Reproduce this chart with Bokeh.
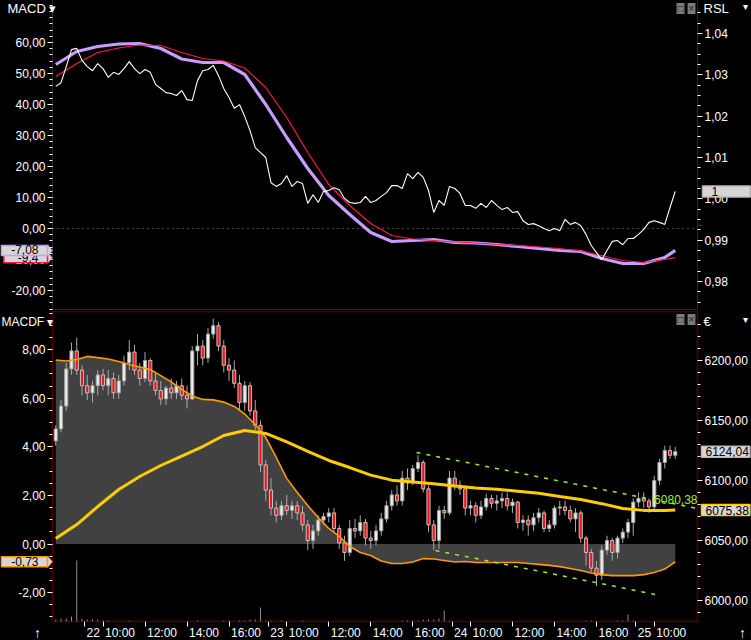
from bokeh.plotting import figure
from bokeh.layouts import column
from bokeh.models import (Range1d, LinearAxis, FixedTicker, CustomJSTickFormatter, Label, BoxAnnotation,
                          PolyAnnotation)
from bokeh.embed import file_html
from bokeh.resources import INLINE
from jinja2 import Template

# ---------------- sessions: 15-minute bars, trading hours 9:00-17:45 ----------------
session_days = ["21", "22", "23", "24", "25"]
first_bar_hour = [16.5, 9.0, 9.0, 9.0, 9.0]
last_bar_hour = [17.5, 17.5, 17.5, 17.5, 11.0]
SESSION_OPEN = 9.0
SESSION_HOURS = 8.75
BAR_HOURS = 0.25

tick_days = ["22", "23", "24", "25"]
tick_hours = [[10, 12, 14, 16], [10, 12, 14, 16], [10, 12, 14, 16], [10]]
DAY_MARK = 0.12

# ---------------- price candles (EUR) ----------------
opens = [6133, 6143, 6162, 6193, 6208,
         6192, 6179, 6173, 6179, 6188, 6179, 6185, 6173, 6183, 6198, 6207, 6192, 6185, 6200, 6183, 6175, 6168, 6177,
         6173, 6179, 6171, 6168, 6208, 6212, 6202, 6222, 6229, 6212, 6196, 6192, 6181, 6165, 6179, 6158, 6146,
         6113, 6092, 6077, 6071, 6079, 6075, 6079, 6073, 6063, 6050, 6058, 6067, 6070, 6073, 6060, 6048, 6040, 6060,
         6058, 6065, 6052, 6050, 6058, 6068, 6079, 6088, 6083, 6102, 6098, 6110, 6115, 6093, 6063, 6050, 6075,
         6073, 6102, 6096, 6093, 6077, 6079, 6071, 6078, 6085, 6081, 6083, 6085, 6079, 6082, 6065, 6067, 6063, 6069,
         6073, 6060, 6063, 6077, 6078, 6075, 6068, 6073, 6052, 6040, 6027, 6021, 6042, 6050, 6040, 6052, 6057,
         6065, 6082, 6085, 6083, 6078, 6100, 6115, 6125, 6121]
highs = [6146, 6167, 6198, 6215, 6219,
         6196, 6188, 6183, 6192, 6193, 6192, 6190, 6188, 6204, 6217, 6213, 6198, 6207, 6202, 6190, 6183, 6179, 6185,
         6183, 6185, 6179, 6212, 6222, 6217, 6227, 6235, 6232, 6217, 6202, 6200, 6188, 6183, 6182, 6167, 6150,
         6117, 6102, 6083, 6083, 6088, 6083, 6083, 6079, 6067, 6063, 6071, 6073, 6077, 6077, 6063, 6054, 6067, 6068,
         6071, 6068, 6058, 6063, 6073, 6083, 6092, 6096, 6108, 6110, 6113, 6121, 6117, 6096, 6067, 6079, 6079,
         6108, 6108, 6100, 6096, 6083, 6082, 6083, 6089, 6088, 6088, 6090, 6090, 6085, 6083, 6071, 6071, 6073, 6077,
         6075, 6067, 6079, 6083, 6083, 6079, 6077, 6075, 6054, 6043, 6033, 6046, 6054, 6052, 6054, 6060, 6068,
         6085, 6090, 6090, 6085, 6104, 6118, 6129, 6129, 6128]
lows = [6129, 6140, 6158, 6188, 6188,
        6171, 6167, 6165, 6171, 6175, 6171, 6168, 6168, 6179, 6192, 6188, 6179, 6182, 6179, 6171, 6163, 6163, 6168,
        6168, 6167, 6160, 6167, 6196, 6196, 6198, 6218, 6208, 6190, 6183, 6177, 6158, 6158, 6154, 6142, 6107,
        6083, 6071, 6065, 6067, 6071, 6068, 6067, 6058, 6042, 6043, 6054, 6063, 6065, 6057, 6043, 6033, 6037, 6052,
        6054, 6046, 6043, 6046, 6054, 6065, 6075, 6079, 6079, 6092, 6096, 6107, 6090, 6057, 6042, 6043, 6068,
        6071, 6092, 6088, 6071, 6071, 6065, 6068, 6075, 6077, 6075, 6077, 6075, 6073, 6060, 6058, 6054, 6058, 6065,
        6057, 6057, 6060, 6071, 6071, 6065, 6057, 6048, 6029, 6023, 6012, 6017, 6038, 6033, 6035, 6048, 6052,
        6054, 6078, 6077, 6073, 6075, 6096, 6110, 6118, 6118]
closes = [6143, 6162, 6193, 6208, 6192,
          6179, 6173, 6179, 6188, 6179, 6185, 6173, 6183, 6198, 6207, 6192, 6185, 6200, 6183, 6175, 6168, 6177, 6173,
          6179, 6171, 6168, 6208, 6212, 6202, 6222, 6229, 6212, 6196, 6192, 6181, 6165, 6179, 6158, 6146, 6113,
          6092, 6077, 6071, 6079, 6075, 6079, 6073, 6063, 6050, 6058, 6067, 6070, 6073, 6060, 6048, 6040, 6060, 6058,
          6065, 6052, 6050, 6058, 6068, 6079, 6088, 6083, 6102, 6098, 6110, 6115, 6093, 6063, 6050, 6075, 6073,
          6102, 6096, 6093, 6077, 6079, 6071, 6078, 6085, 6081, 6083, 6085, 6079, 6082, 6065, 6067, 6063, 6069, 6073,
          6060, 6063, 6077, 6078, 6075, 6068, 6073, 6052, 6040, 6027, 6021, 6042, 6050, 6040, 6052, 6057, 6065,
          6082, 6085, 6083, 6078, 6100, 6115, 6125, 6121, 6124.04]
volume = [200, 300, 300, 500, 6100,
          300, 200, 200, 200, 100, 100, 0, 0, 0, 100, 0, 0, 0, 0, 0, 0, 0, 0, 0, 0, 0, 0, 100, 0, 0, 0, 0, 100, 100, 0,
          100, 100, 200, 200, 1400,
          100, 100, 0, 100, 0, 0, 0, 100, 0, 0, 0, 0, 0, 0, 0, 0, 0, 0, 0, 0, 0, 0, 0, 0, 0, 0, 100, 100, 100, 100,
          200, 200, 200, 300, 1100,
          100, 0, 0, 0, 0, 0, 0, 0, 0, 0, 0, 0, 0, 0, 0, 0, 0, 0, 0, 0, 0, 0, 0, 0, 0, 0, 100, 100, 0, 0,
          0, 0, 100, 100, 700,
          100, 0, 0, 0, 0, 0, 0, 0, 0]

# ---------------- indicators ----------------
rsl = [1.0272, 1.0281, 1.0320, 1.0361, 1.0364,
       1.0335, 1.0320, 1.0310, 1.0327, 1.0315, 1.0294, 1.0306, 1.0301, 1.0315, 1.0332, 1.0315, 1.0303, 1.0313,
       1.0306, 1.0277, 1.0267, 1.0257, 1.0255, 1.0250, 1.0262, 1.0240, 1.0238, 1.0286, 1.0310, 1.0313, 1.0323,
       1.0298, 1.0267, 1.0245, 1.0219, 1.0228, 1.0199, 1.0165, 1.0124, 1.0112,
       1.0100, 1.0039, 1.0030, 1.0037, 1.0056, 1.0030, 1.0042, 1.0037, 0.9989, 1.0010, 0.9991, 1.0018, 1.0020,
       1.0027, 1.0022, 1.0001, 0.9991, 0.9989, 0.9991, 1.0006, 0.9991, 0.9996, 1.0006, 1.0015, 1.0032, 1.0032,
       1.0025, 1.0061, 1.0049, 1.0064, 1.0052, 1.0020, 0.9967, 0.9996, 0.9984,
       1.0030, 1.0025, 1.0013, 0.9984, 0.9984, 0.9977, 0.9989, 0.9979, 0.9996, 0.9984, 0.9974, 0.9979, 0.9967,
       0.9969, 0.9947, 0.9938, 0.9940, 0.9935, 0.9928, 0.9923, 0.9928, 0.9923, 0.9950, 0.9938, 0.9943, 0.9935,
       0.9914, 0.9887, 0.9870, 0.9853, 0.9875, 0.9897, 0.9899, 0.9889, 0.9904,
       0.9904, 0.9914, 0.9926, 0.9943, 0.9947, 0.9943, 0.9938, 0.9979, 1.0018]
macd_line = [52.90, 57.10, 58.71, 59.52, 59.68, 58.06, 54.68, 53.55, 53.55, 49.68, 40.00, 29.35, 19.35, 10.65,
             4.52, -1.29, -4.19, -3.87, -3.55, -4.52, -4.68, -5.16, -5.81, -6.45, -7.10, -7.42, -9.68, -11.29,
             -11.29, -9.35, -7.08]
macd_signal = [49.03, 53.23, 56.77, 58.23, 59.19, 59.03, 56.77, 54.84, 54.03, 51.77, 45.48, 35.81, 24.52, 14.19,
               7.42, 1.61, -2.26, -3.39, -3.87, -4.35, -4.68, -5.16, -5.48, -5.97, -6.45, -7.26, -8.71, -10.32,
               -10.97, -10.00, -9.40]
ma_line = [6051.7, 6063.3, 6078.3, 6092.5, 6103.3, 6112.5, 6120.4, 6128.3, 6137.5, 6141.7, 6139.2, 6132.1,
           6124.2, 6116.7, 6110.8, 6104.5, 6100.3, 6098.7, 6097.3, 6095.5, 6093.8, 6092.7, 6091.1, 6089.3, 6086.7,
           6084.2, 6080.7, 6076.7, 6075.1, 6075.0, 6075.38]
macdf = [7.57, 7.53, 7.59, 7.72, 7.67, 7.61, 7.51, 7.39, 7.28, 7.18, 6.93, 6.67, 6.36, 6.09, 5.95, 5.93, 5.84,
         5.66, 5.35, 4.92, 4.38, 3.56, 2.70, 2.12, 1.58, 1.09, 0.64, 0.31, -0.10, -0.35, -0.47, -0.70, -0.80,
         -0.80, -0.74, -0.60, -0.62, -0.68, -0.74, -0.72, -0.76, -0.76, -0.76, -0.76, -0.76, -0.80, -0.84, -0.88,
         -0.93, -1.01, -1.09, -1.19, -1.26, -1.30, -1.30, -1.30, -1.26, -1.17, -1.03, -0.73]
trend_hi_t = [15.93, 29.31]
trend_hi_p = [6123.3, 6076.7]
trend_lo_t = [16.83, 27.31]
trend_lo_p = [6041.7, 6005.0]
trend_value = "6080,38"

macd_ticks = [-20, -10, 0, 10, 20, 30, 40, 50, 60]
rsl_ticks = [0.98, 0.99, 1.00, 1.01, 1.02, 1.03, 1.04]
macdf_ticks = [-2, 0, 2, 4, 6, 8]
price_ticks = [6000, 6050, 6100, 6150, 6200]

# ---------------- derived times ----------------
bar_t = []
for d, (h0, h1) in enumerate(zip(first_bar_hour, last_bar_hour)):
    h = h0
    while h <= h1 + 1e-9:
        bar_t.append((d - 1) * SESSION_HOURS + (h - SESSION_OPEN))
        h += BAR_HOURS
t4 = [bar_t[k] for k in list(range(0, len(bar_t) - 1, 4)) + [len(bar_t) - 1]]
t2 = [bar_t[k] for k in range(0, len(bar_t), 2)]

xlabels = []
for i, d in enumerate(tick_days):
    base = i * SESSION_HOURS
    xlabels.append((base + DAY_MARK, d))
    for h in tick_hours[i]:
        xlabels.append((base + h - SESSION_OPEN, f"{h}:00"))

# ---------------- layout ----------------
FONT = "Liberation Sans"
FS = "12px"
W = 751
LB, RB = 52, 54                 # room for the value axes
FRAME_W = W - LB - RB
TOP_H = 310
BOT_TOP, BOT_FRAME, BOT_BOTTOM = 1, 310, 19
BOT_H = BOT_TOP + BOT_FRAME + BOT_BOTTOM
X0, X1 = -1.4048, 29.3095       # visible time span of the panels (trading hours)
MACD_R = (-26.452, 73.548)
RSL_R = (0.97298, 1.047985)
MACDF_R = (-3.189, 9.568)
PRICE_R = (5982.5, 6240.83)
VOL_R = (0, 31000)

PPU = FRAME_W / (X1 - X0)
XA, XB = X0 - LB / PPU, X1 + RB / PPU


def xd(fx):  # horizontal pixel in a figure -> time units
    return XA + fx / PPU


def ytop(fy, r):
    return r[1] - fy * (r[1] - r[0]) / TOP_H


def bot_full(r):
    u = (r[1] - r[0]) / BOT_FRAME
    return (r[0] - BOT_BOTTOM * u, r[1] + BOT_TOP * u)


def ybot(fy, r):
    u = (r[1] - r[0]) / BOT_FRAME
    return r[1] - (fy - BOT_TOP) * u


fmt = CustomJSTickFormatter(code="return tick.toFixed(2).replace('.', ',')")


def style_axis(ax, ticks, minor, loc):
    ax.fixed_location = loc
    ax.ticker = FixedTicker(ticks=ticks, minor_ticks=minor)
    ax.formatter = fmt
    ax.axis_line_color = None
    ax.major_tick_line_color = "white"
    ax.minor_tick_line_color = "white"
    ax.major_tick_out = 5
    ax.major_tick_in = 0
    ax.minor_tick_out = 3
    ax.minor_tick_in = 0
    ax.major_label_text_color = "white"
    ax.major_label_text_font = FONT
    ax.major_label_text_font_size = FS
    ax.major_label_standoff = 2


def txt(p, x, y, text, color="white", size=FS, align="left", baseline="middle", **kw):
    p.add_layout(Label(x=x, y=y, text=text, text_color=color, text_font=FONT, text_font_size=size,
                       text_align=align, text_baseline=baseline, **kw))


def tag(p, fx_edge, y, text, border, side, y_range_name="default", pad=None):
    # value box in the axis margin; fx_edge is the box edge facing the panel
    p.add_layout(Label(x=xd(fx_edge), y=y, text=text, text_color="black", text_font=FONT,
                       text_font_size=FS, text_align="right" if side == "left" else "left",
                       text_baseline="middle", background_fill_color="#d6d6d6", border_line_color=border,
                       border_line_width=1.5, y_range_name=y_range_name, padding=pad))


def pointer(p, fx_base, fx_tip, y, half, r, border, ph, y_range_name="default"):
    u = (r[1] - r[0]) / ph
    p.add_layout(PolyAnnotation(xs=[xd(fx_base), xd(fx_tip), xd(fx_base)],
                                ys=[y + half * u, y, y - half * u], fill_color="#d6d6d6", fill_alpha=1,
                                line_color=border, line_width=1.2, y_range_name=y_range_name))


def base_fig(h, yr):
    p = figure(width=W, height=h, x_range=Range1d(XA, XB), y_range=Range1d(*yr), output_backend="svg",
               toolbar_location=None, tools="", title=None, x_axis_location=None, y_axis_location="left",
               min_border_left=0, min_border_right=0, min_border_top=0, min_border_bottom=0,
               background_fill_color="black", border_fill_color="black", outline_line_color=None)
    for g in p.grid:
        g.visible = False
    return p


# ---------------- top panel: MACD / RSL ----------------
top = base_fig(TOP_H, MACD_R)
top.extra_y_ranges = {"rsl": Range1d(*RSL_R)}
style_axis(top.yaxis[0], macd_ticks, [-26 + 2 * i for i in range(50)], X0)
ax_r = LinearAxis(y_range_name="rsl")
style_axis(ax_r, rsl_ticks, [0.975 + 0.0025 * i for i in range(29)], X1)
top.add_layout(ax_r, "right")
top.add_layout(BoxAnnotation(left=X0, right=X1, bottom=ytop(309, MACD_R), top=MACD_R[1] + 5,
                             fill_alpha=0, line_color="#8c8c8c", line_width=1))

top.segment(x0=[X0], y0=[0], x1=[X1], y1=[0], line_color="#8a8a8a", line_dash="1 4", line_width=1)
top.line(t4, macd_line, line_color="#c99cff", line_width=3.2)
top.line(t4, macd_signal, line_color="#ff1744", line_width=1.2)
top.line(bar_t, rsl, y_range_name="rsl", line_color="white", line_width=1.1)

txt(top, xd(7), ytop(8, MACD_R), "MACD ▾", size="13px")
txt(top, xd(703), ytop(8, MACD_R), "RSL", size="13px")
txt(top, xd(W - 6), ytop(6, MACD_R), "▾", size="10px", align="center")
for cx, ch in [(680, "□"), (691, "×")]:
    txt(top, xd(cx), ytop(8, MACD_R), ch, color="#202020", size="10px", align="center",
        background_fill_color="#7c7c7c", padding=dict(left=1, right=1, top=0, bottom=0))

pointer(top, 47, LB, macd_signal[-1], 6, MACD_R, "#ff1744", TOP_H)
tag(top, 47, macd_signal[-1], "-9,4", "#ff1744", "left", pad=dict(left=14, right=9, top=0, bottom=1))
pointer(top, 47, LB, macd_line[-1], 6, MACD_R, "#c99cff", TOP_H)
tag(top, 47, macd_line[-1], "-7,08", "#c99cff", "left", pad=dict(left=10, right=9, top=0, bottom=1))
pointer(top, 702, LB + FRAME_W + 1, rsl[-1], 6, RSL_R, "#bbbbbb", TOP_H, "rsl")
tag(top, 702, rsl[-1], "1", "#bbbbbb", "right", "rsl", pad=dict(left=9, right=32, top=1, bottom=1))

# ---------------- bottom panel: MACDF / price ----------------
bot = base_fig(BOT_H, bot_full(MACDF_R))
bot.x_range = top.x_range
bot.extra_y_ranges = {"price": Range1d(*bot_full(PRICE_R)), "vol": Range1d(*bot_full(VOL_R))}
style_axis(bot.yaxis[0], macdf_ticks, [-3 + 0.5 * i for i in range(26)], X0)
ax_p = LinearAxis(y_range_name="price")
style_axis(ax_p, price_ticks, [5990 + 10 * i for i in range(25)], X1)
bot.add_layout(ax_p, "right")
ax_x = LinearAxis(ticker=FixedTicker(ticks=[t for t, _ in xlabels], minor_ticks=[]),
                  formatter=CustomJSTickFormatter(code="return ''"), axis_line_color=None,
                  major_tick_line_color="white", major_tick_out=5, major_tick_in=0,
                  major_label_standoff=0, major_label_text_font_size="1px", fixed_location=MACDF_R[0])
bot.add_layout(ax_x, "below")

bot.varea(x=t2, y1=[0] * len(t2), y2=macdf, fill_color="#414141")
bot.segment(x0=bar_t, y0=[0] * len(bar_t), x1=bar_t, y1=volume, y_range_name="vol",
            line_color="#8c8c8c", line_width=1)

up = [i for i in range(len(bar_t)) if closes[i] >= opens[i]]
dn = [i for i in range(len(bar_t)) if closes[i] < opens[i]]
bot.segment(x0=bar_t, y0=lows, x1=bar_t, y1=highs, y_range_name="price", line_color="#a8a8a8", line_width=1)
bot.vbar(x=[bar_t[i] for i in up], width=0.15, top=[closes[i] for i in up], bottom=[opens[i] for i in up],
         y_range_name="price", fill_color="#ececec", line_color="#a0a0a0", line_width=1)
bot.vbar(x=[bar_t[i] for i in dn], width=0.15, top=[opens[i] for i in dn], bottom=[closes[i] for i in dn],
         y_range_name="price", fill_color="#ff1010", line_color="#c4c4c4", line_width=1)

bot.line(t2, macdf, line_color="#ff9a00", line_width=1.6)
bot.line(t4, ma_line, y_range_name="price", line_color="#ffcc00", line_width=3)
bot.line(trend_hi_t, trend_hi_p, y_range_name="price", line_color="#99ee33", line_dash="4 6", line_width=1.5)
bot.line(trend_lo_t, trend_lo_p, y_range_name="price", line_color="#99ee33", line_dash="4 6", line_width=1.5)
bot.add_layout(BoxAnnotation(left=X0, right=X1, bottom=MACDF_R[0], top=MACDF_R[1], fill_alpha=0,
                             line_color="#ff0000", line_width=1.6))

txt(bot, xd(LB + FRAME_W), 6080.38, trend_value, color="#99ee33", align="right", baseline="bottom",
    y_range_name="price")
txt(bot, xd(1), ybot(11, MACDF_R), "MACDF ▾", size="12px")
txt(bot, xd(703), ybot(11, MACDF_R), "€", size="13px")
txt(bot, xd(W - 6), ybot(9, MACDF_R), "▾", size="10px", align="center")
for cx, ch in [(680, "□"), (691, "×")]:
    txt(bot, xd(cx), ybot(9, MACDF_R), ch, color="#202020", size="10px", align="center",
        background_fill_color="#7c7c7c", padding=dict(left=1, right=1, top=0, bottom=0))

pointer(bot, 47, LB, macdf[-1], 6, MACDF_R, "#ff9a00", BOT_FRAME)
tag(bot, 47, macdf[-1], "-0,73", "#ff9a00", "left", pad=dict(left=10, right=9, top=0, bottom=1))
pointer(bot, 701, LB + FRAME_W + 1, closes[-1], 6, PRICE_R, "#bbbbbb", BOT_FRAME, "price")
tag(bot, 701, closes[-1], "6124,04", "#bbbbbb", "right", "price", pad=dict(left=4, right=1, top=1, bottom=1))
pointer(bot, 701, LB + FRAME_W + 1, ma_line[-1], 6, PRICE_R, "#ffcc00", BOT_FRAME, "price")
tag(bot, 701, ma_line[-1], "6075,38", "#ffcc00", "right", "price", pad=dict(left=4, right=1, top=1, bottom=1))

ylab = ybot(BOT_TOP + BOT_FRAME + 11, MACDF_R)
for t, s in xlabels:
    txt(bot, t, ylab, s, x_offset=2)
txt(bot, xd(37), ylab, "↑", size="14px", align="center")
txt(bot, xd(742), ylab, "↑", size="14px", align="center")

layout = column(top, bot, spacing=0)

tpl = Template("""{% extends base %}
{% block preamble %}<style>html, body { background: #000000; }</style>{% endblock %}""")
open("out.html", "w").write(file_html(layout, INLINE, title="MACD", template=tpl))
